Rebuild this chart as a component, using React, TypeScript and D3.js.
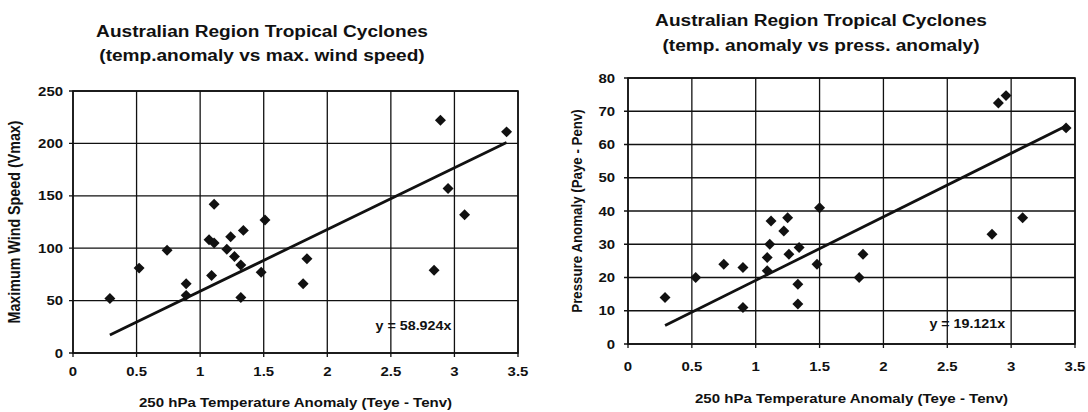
import React from "react";
import * as d3 from "d3";

// ---------- data ----------
const xTicks = [0, 0.5, 1, 1.5, 2, 2.5, 3, 3.5];

const windTitle1 = "Australian Region Tropical Cyclones";
const windTitle2 = "(temp.anomaly vs max. wind speed)";
const windYTitle = "Maximum Wind Speed (Vmax)";
const windTicks = [0, 50, 100, 150, 200, 250];
const windX = [0.29, 0.52, 0.74, 0.89, 0.89, 1.11, 1.07, 1.11, 1.09, 1.24, 1.34, 1.21, 1.27, 1.32, 1.32, 1.51, 1.48, 1.84, 1.81, 2.89, 2.95, 3.08, 2.84, 3.41];
const windY = [52, 81, 98, 66, 55, 142, 108, 105, 74, 111, 117, 99, 92, 84, 53, 127, 77, 90, 66, 222, 157, 132, 79, 211];
const windSlope = 58.924;
const windEq = "y = 58.924x";

const pressTitle1 = "Australian Region Tropical Cyclones";
const pressTitle2 = "(temp. anomaly vs press. anomaly)";
const pressYTitle = "Pressure Anomaly (Paye - Penv)";
const pressTicks = [0, 10, 20, 30, 40, 50, 60, 70, 80];
const pressX = [0.29, 0.53, 0.75, 0.9, 0.9, 1.12, 1.25, 1.22, 1.11, 1.09, 1.09, 1.26, 1.34, 1.33, 1.33, 1.48, 1.5, 1.84, 1.81, 2.9, 2.96, 3.09, 2.85, 3.43];
const pressY = [14, 20, 24, 23, 11, 37, 38, 34, 30, 26, 22, 27, 29, 18, 12, 24, 41, 27, 20, 72.5, 74.7, 38, 33, 65];
const pressSlope = 19.121;
const pressEq = "y = 19.121x";

const xTitle = "250 hPa Temperature Anomaly (Teye - Tenv)";

// ---------- style ----------
const W = 1088;
const H = 412;
const SX = 1.15;
const FONT = "'Liberation Sans', Arial, Helvetica, sans-serif";
const INK = "#111";

function Txt({ x, y, size, anchor = "middle", rot = 0, dy, children }: any) {
  return (
    <g transform={`translate(${x},${y}) scale(${SX},1)${rot ? ` rotate(${rot})` : ""}`}>
      <text
        fontFamily={FONT}
        fontWeight="bold"
        fontSize={size}
        textAnchor={anchor}
        dy={dy}
        fill={INK}
      >
        {children}
      </text>
    </g>
  );
}

function Panel({ box, xs, ys, yTicks, slope, eq, eqPos, t1, t2, tx, ty1, ty2, yTitle, yTitleX, yTitleSize, xTitleY, xLabY, yLabGap }: any) {
  const xScale = d3.scaleLinear().domain([0, 3.5]).range([box.x0, box.x1]);
  const yScale = d3.scaleLinear().domain([0, yTicks[yTicks.length - 1]]).range([box.y0, box.y1]);
  const xmin = d3.min(xs) as number;
  const xmax = d3.max(xs) as number;
  const line = d3
    .line<number>()
    .x((d) => xScale(d))
    .y((d) => yScale(d * slope));
  const diamond = d3.symbol().type(d3.symbolSquare).size(60)();
  const midY = (box.y0 + box.y1) / 2;
  return (
    <g>
      <Txt x={tx} y={ty1} size={16.6}>{t1}</Txt>
      <Txt x={tx} y={ty2} size={16.6}>{t2}</Txt>
      {/* grid */}
      {yTicks.map((t: number) => (
        <line key={"gy" + t} x1={xScale(0) - 4} x2={xScale(3.5)} y1={yScale(t)} y2={yScale(t)} stroke={INK} strokeWidth={1.3} />
      ))}
      {xTicks.map((t: number) => (
        <line key={"gx" + t} x1={xScale(t)} x2={xScale(t)} y1={yScale(0) + 4} y2={yScale(yTicks[yTicks.length - 1])} stroke={INK} strokeWidth={1.3} />
      ))}
      <rect x={box.x0} y={box.y1} width={box.x1 - box.x0} height={box.y0 - box.y1} fill="none" stroke={INK} strokeWidth={1.6} />
      {/* tick labels */}
      {yTicks.map((t: number) => (
        <Txt key={"ly" + t} x={xScale(0) - yLabGap} y={yScale(t)} size={13} anchor="end" dy="0.36em">{t}</Txt>
      ))}
      {xTicks.map((t: number) => (
        <Txt key={"lx" + t} x={xScale(t)} y={xLabY} size={13}>{t}</Txt>
      ))}
      {/* regression */}
      <path d={line([xmin, xmax]) || ""} stroke={INK} strokeWidth={2.8} fill="none" />
      {/* points */}
      {xs.map((x: number, i: number) => (
        <path key={i} d={diamond || ""} transform={`translate(${xScale(x)},${yScale(ys[i])}) rotate(45)`} fill={INK} />
      ))}
      <Txt x={xScale(eqPos[0])} y={yScale(eqPos[1])} size={12.4} anchor="start">{eq}</Txt>
      <Txt x={(box.x0 + box.x1) / 2} y={xTitleY} size={13.1}>{xTitle}</Txt>
      <Txt x={yTitleX} y={midY} size={yTitleSize} rot={-90}>{yTitle}</Txt>
    </g>
  );
}

export default function App() {
  return (
    <svg width={W} height={H} style={{ position: "absolute", left: 0, top: 0, background: "#fff" }}>
      <rect x={0} y={0} width={W} height={H} fill="#fff" />
      <Panel
        box={{ x0: 73, x1: 518, y0: 353, y1: 91 }}
        xs={windX}
        ys={windY}
        yTicks={windTicks}
        slope={windSlope}
        eq={windEq}
        eqPos={[2.38, 22]}
        t1={windTitle1}
        t2={windTitle2}
        tx={262}
        ty1={37}
        ty2={61}
        yTitle={windYTitle}
        yTitleX={20}
        yTitleSize={14.3}
        xTitleY={407}
        xLabY={376}
        yLabGap={10}
      />
      <Panel
        box={{ x0: 628, x1: 1075, y0: 344, y1: 78 }}
        xs={pressX}
        ys={pressY}
        yTicks={pressTicks}
        slope={pressSlope}
        eq={pressEq}
        eqPos={[2.36, 4.8]}
        t1={pressTitle1}
        t2={pressTitle2}
        tx={821}
        ty1={26}
        ty2={51}
        yTitle={pressYTitle}
        yTitleX={582}
        yTitleSize={13.3}
        xTitleY={403}
        xLabY={371}
        yLabGap={13}
      />
    </svg>
  );
}
